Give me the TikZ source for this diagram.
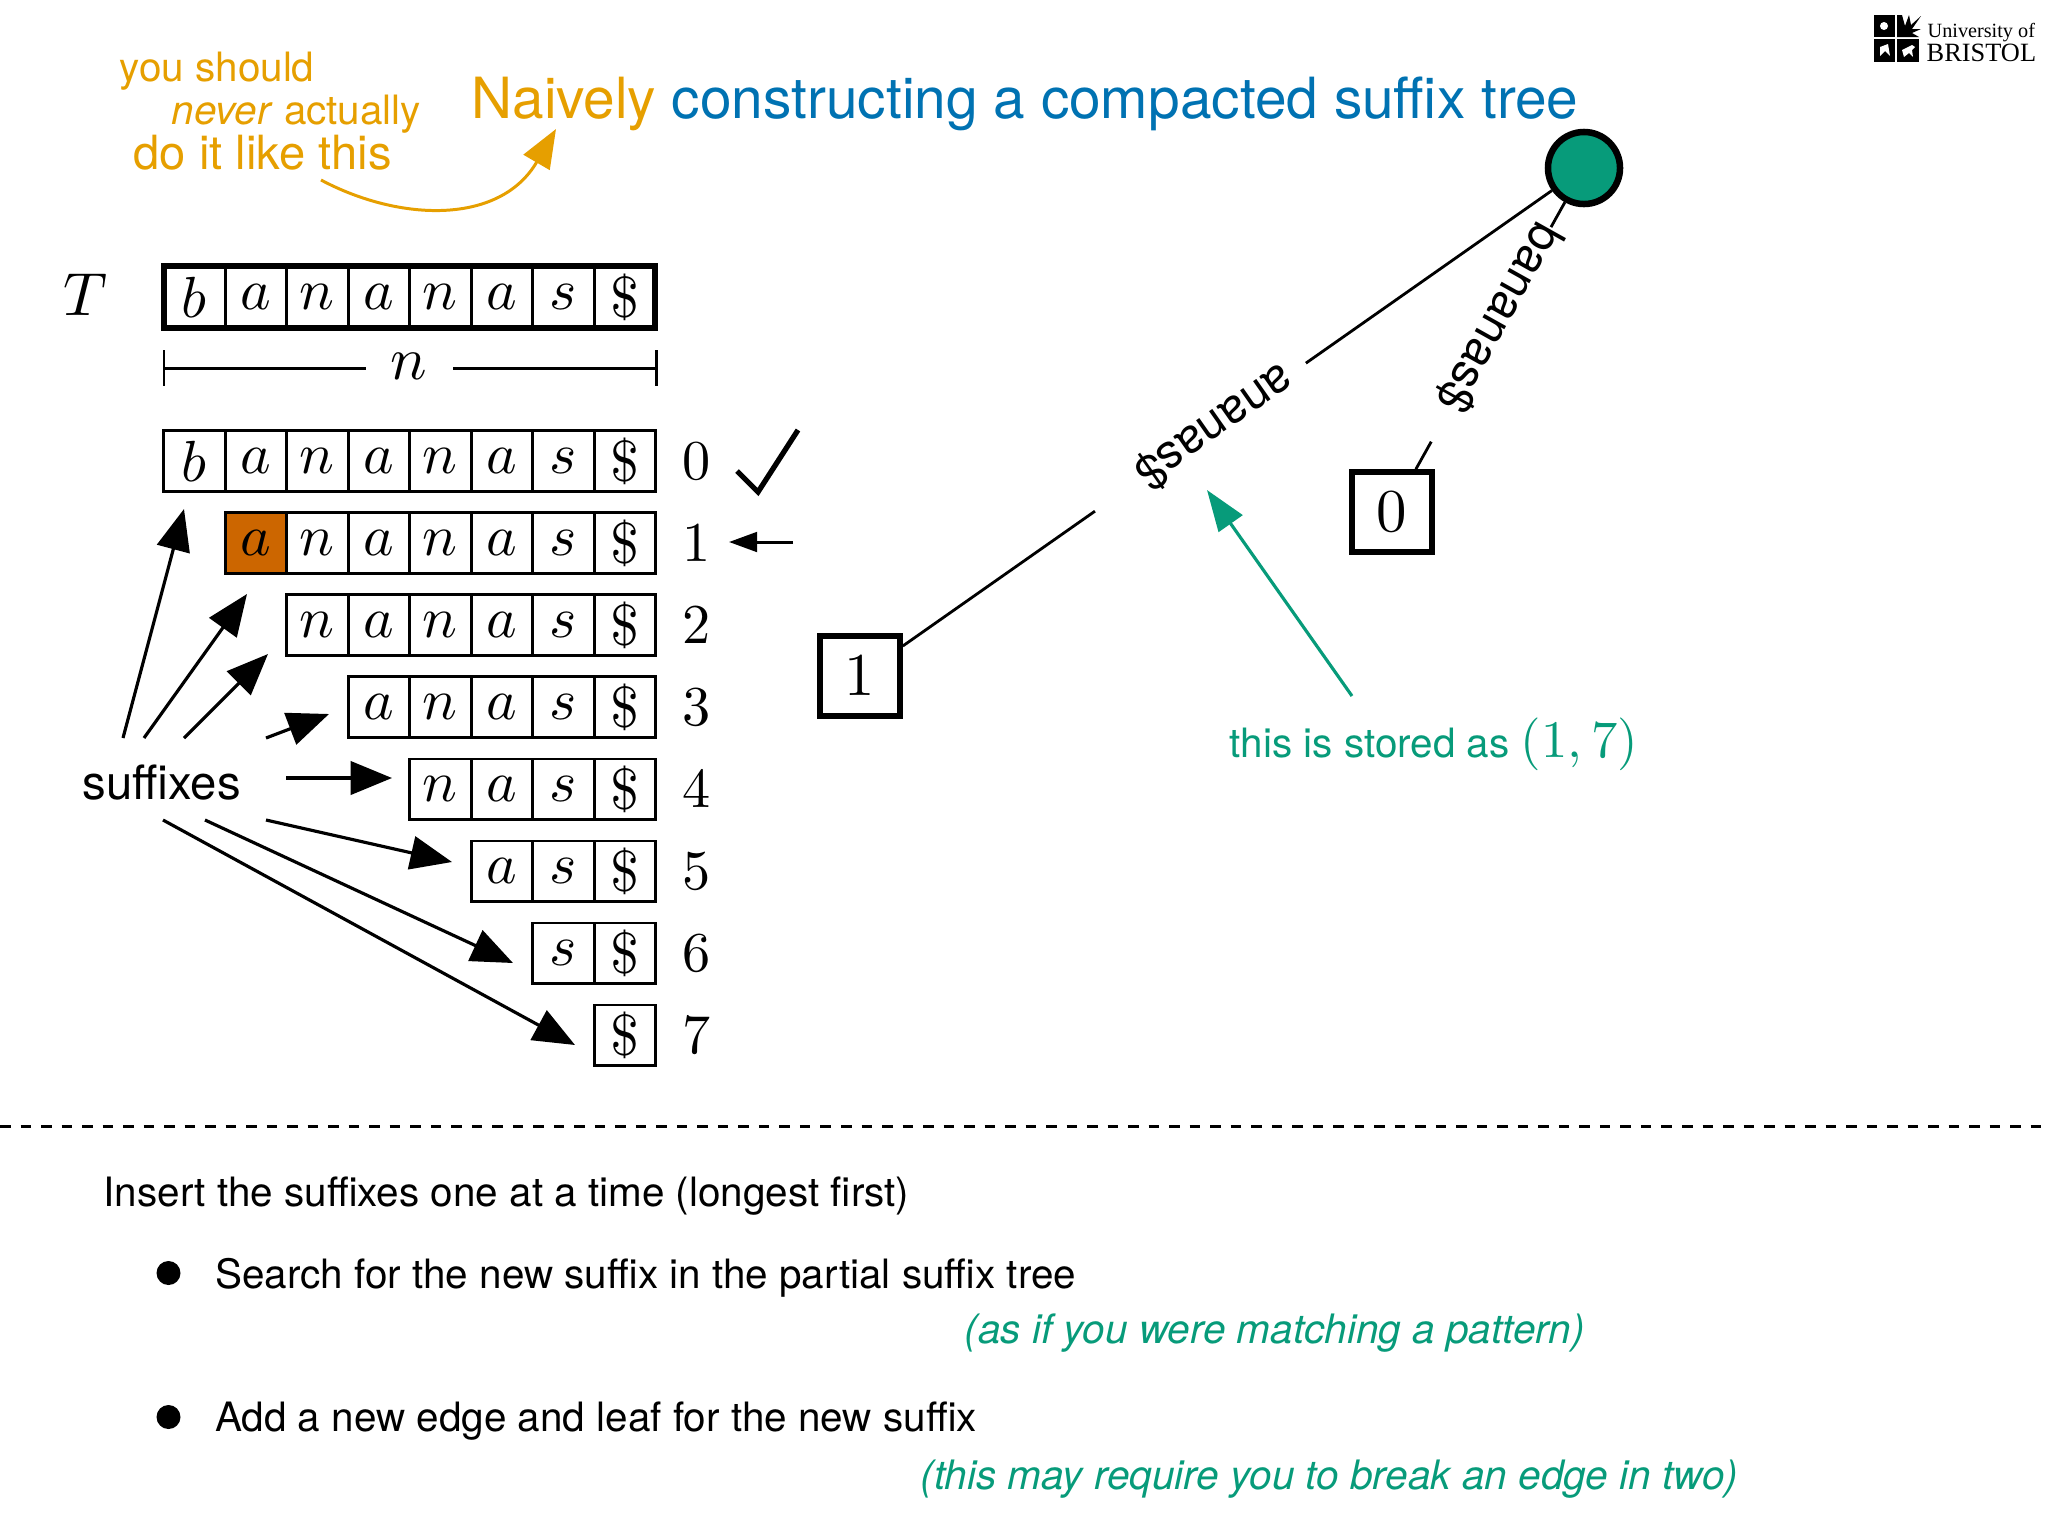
\documentclass[tikz,border=0pt]{standalone}
\usepackage{amsmath}
\usepackage{graphicx}
\usepackage{fontspec}
\usetikzlibrary{arrows.meta}

\newfontfamily\helv{TeX Gyre Heros}
\newfontfamily\timesf{Liberation Serif}

\definecolor{naiveorange}{HTML}{E69F00}
\definecolor{titleblue}{HTML}{0072B2}
\definecolor{noteteal}{HTML}{079B7A}
\definecolor{cellorange}{HTML}{CC6600}

\newcommand{\glyph}[2][1.65]{\scalebox{#1}{\normalsize$#2$}}

\tikzset{
    cell/.style={draw,line width=0.85pt,minimum width=0.615cm,minimum height=0.6cm,inner sep=0pt},
    plaintext/.style={anchor=base west,inner sep=0pt,font=\helv\fontsize{11.5}{14}\selectfont},
    leaf/.style={draw,line width=1.6pt,minimum size=0.8cm,inner sep=0pt},
    edgetext/.style={fill=white,inner ysep=1pt,font=\helv\fontsize{13.5}{16}\selectfont},
    bigarrow/.style={line width=0.9pt,-{Triangle[length=11.8pt,width=9.5pt]}},
}

\begin{document}
\begin{tikzpicture}[x=0.01cm,y=-0.01cm]

\useasboundingbox (0,0) rectangle (2048,1536);

% logo
\fill (1874,15) rectangle (1895,37);
\fill (1874,39) rectangle (1895,62);
\fill (1897,39) rectangle (1919,62);
\fill (1897,15) -- (1902,15) -- (1905,26) -- (1909,15) -- (1911,25) -- (1921,16) -- (1912,29) -- (1921,29) -- (1912,33) -- (1919,37) -- (1897,37) -- cycle;
\fill[white] (1884,26) circle (4);
\fill[white] (1880,47) -- (1888,44) -- (1890,56) -- (1885,51) -- (1880,56) -- cycle;
\fill[white] (1902,50) -- (1912,45) -- (1915,47) -- (1912,50) -- (1913,57) -- (1909,53) -- (1904,57) -- cycle;
\node[plaintext,font=\timesf\fontsize{5.75}{7}\selectfont] (uni) at (1927,37) {University of};
\node[plaintext,font=\timesf\fontsize{7.5}{9}\selectfont] (bristol) at (1926,61) {BRISTOL};

% title and the note beside it
\node[plaintext,font=\helv\fontsize{16.15}{18}\selectfont,text=titleblue] (title) at (471,118) {\textcolor{naiveorange}{Naively} constructing a compacted suffix tree};
\node[plaintext,text=naiveorange] (note1) at (119,81) {you should};
\node[plaintext,text=naiveorange] (note2) at (171,124) {\textit{never} actually};
\node[plaintext,text=naiveorange,font=\helv\fontsize{13.4}{16}\selectfont] (note3) at (133,169.5) {do it like this};

\coordinate (notefrom) at (321,180);
\coordinate (noteto) at (556,129);
\draw[naiveorange,line width=0.85pt,-{Triangle[length=11pt,width=8.5pt]}] (notefrom) .. controls (400,222) and (500,225) .. (noteto);

% the text T
\node (T) at (86,295) {\glyph[1.73]{T}};
\foreach \j/\c in {0/b,1/a,2/n,3/a,4/n,5/a,6/s,7/\$}
    \node[cell,minimum height=0.59cm] (t\j) at ({194.3+61.5*\j},297) {\glyph{\c}};
\draw[line width=1.7pt] ([shift={(2,0)}]t0.north west) rectangle ([shift={(-2,0)}]t7.south east);

% length of T
\node (n) at (409,366) {\glyph[1.73]{n}};
\coordinate (nl) at (164,368);
\coordinate (nr) at (656,368);
\coordinate (nlend) at (366,368);
\coordinate (nrend) at (453,368);
\draw[line width=0.85pt] (nl) ++(0,-18) -- ++(0,36);
\draw[line width=0.85pt] (nr) ++(0,-18) -- ++(0,36);
\draw[line width=0.85pt] (nl) -- (nlend);
\draw[line width=0.85pt] (nrend) -- (nr);

% the suffixes, one row each
\foreach \i in {0,...,7} {
    \foreach \j/\c in {0/b,1/a,2/n,3/a,4/n,5/a,6/s,7/\$} {
        \ifnum\j<\i\else
            \node[cell] (r\i c\j) at ({194.3+61.5*\j},{461+82*\i}) {\glyph{\c}};
        \fi
    }
    \node (idx\i) at (697,{461+82*\i}) {\glyph[1.6]{\i}};
}
\node[cell,fill=cellorange] (cur) at (r1c1) {\glyph{a}};

% tick and pointer
\coordinate (tick1) at (737,471);
\coordinate (tick2) at (758,492);
\coordinate (tick3) at (798,430);
\draw[line width=1.5pt] (tick1) -- (tick2) -- (tick3);
\coordinate (pfrom) at (793,542);
\coordinate (pto) at (729,542);
\draw[line width=0.85pt,-{Triangle[length=8pt,width=5.6pt]}] (pfrom) -- (pto);

% arrows out of the word suffixes
\node[plaintext,font=\helv\fontsize{13.45}{16}\selectfont] (suffixes) at (82,799) {suffixes};

\coordinate (s0) at (123,738);
\coordinate (s1) at (144,738);
\coordinate (s2) at (184,738);
\coordinate (s3) at (266,738);
\coordinate (s4) at (286,778);
\coordinate (s5) at (266,820);
\coordinate (s6) at (205,820);
\coordinate (s7) at (163,820);

\coordinate (e0) at (184,509);
\coordinate (e1) at (247,594);
\coordinate (e2) at (268,654);
\coordinate (e3) at (329,714);
\coordinate (e4) at (392,778);
\coordinate (e5) at (452,862);
\coordinate (e6) at (513,963);
\coordinate (e7) at (575,1045);

\foreach \i in {0,...,7}
    \draw[bigarrow] (s\i) -- (e\i);

% the partial tree
\node[leaf] (leaf1) at (860,676) {\glyph[1.73]{1}};
\node[leaf] (leaf0) at (1392,512) {\glyph[1.73]{0}};
\node[circle,draw,fill=noteteal,line width=1.85pt,minimum size=0.72cm,inner sep=0pt] (root) at (1584,168) {};

\draw[line width=0.8pt] (root) -- node[edgetext,pos=0.5415,rotate=215,inner xsep=5.7pt] (lab1) {ananas\$\kern10pt} (leaf1);
\draw[line width=0.8pt] (root) -- node[edgetext,pos=0.495,rotate=240.8,inner xsep=0pt] (lab0) {bananas\$\kern10.5pt} (leaf0);

% how the edge is stored
\node[plaintext,text=noteteal] (stored) at (1229,757) {this is stored as \glyph[1.5]{(1,7)}};
\coordinate (sfrom) at (1352,696);
\coordinate (sto) at (1207,490);
\draw[noteteal,line width=0.9pt,-{Triangle[length=11.7pt,width=8.2pt]}] (sfrom) -- (sto);

% separator
\coordinate (dl) at (0,1126);
\coordinate (dr) at (2048,1126);
\draw[line width=0.85pt,dash pattern=on 0.105cm off 0.1cm] (dl) -- (dr);

% text below the line
\node[plaintext] (line1) at (103,1206) {Insert the suffixes one at a time (longest first)};
\fill (168.5,1273) circle (12);
\node[plaintext] (line2) at (214.5,1288) {Search for the new suffix in the partial suffix tree};
\node[plaintext,text=noteteal,font=\helv\itshape\fontsize{11.53}{14}\selectfont] (line3) at (964,1343) {(as if you were matching a pattern)};
\fill (168.5,1417) circle (12);
\node[plaintext] (line4) at (214.5,1431) {Add a new edge and leaf for the new suffix};
\node[plaintext,text=noteteal,font=\helv\itshape\fontsize{11.53}{14}\selectfont] (line5) at (920,1489) {(this may require you to break an edge in two)};

\end{tikzpicture}
\end{document}
